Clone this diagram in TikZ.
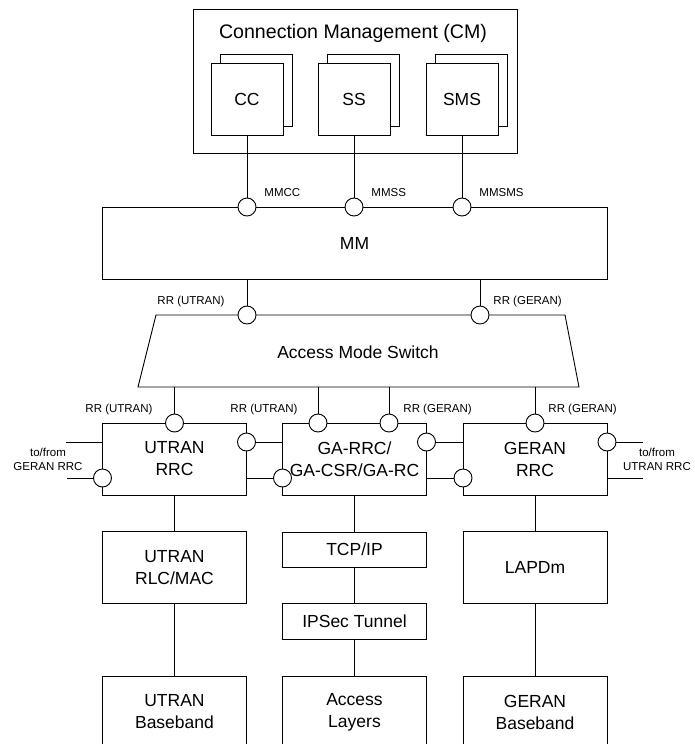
\documentclass[tikz,border=0pt]{standalone}
\usepackage{fontspec}
\setmainfont{Liberation Sans}
\usetikzlibrary{calc}

\begin{document}
\begin{tikzpicture}[x=1pt,y=-1pt,line width=0.9pt,
  box/.style={draw,minimum width=144pt,minimum height=72pt,inner sep=0pt,align=center,font=\fontsize{17.5}{22}\selectfont},
  port/.style={draw,circle,fill=white,minimum size=18pt,inner sep=0pt},
  lbl/.style={inner sep=0pt,align=center,font=\fontsize{11.5}{14}\selectfont}]
  \useasboundingbox (0,0) rectangle (694,744);
  \clip (0,0) rectangle (694,744);
  % connection management
  \node[box,minimum width=324pt,minimum height=144pt] (cm) at (355,81) {};
  \node[font=\fontsize{19.6}{22}\selectfont] (cmt) at (353,33) {Connection Management (CM)};
  \foreach \n/\lab/\x in {cc/CC/247,ss/SS/354,sms/SMS/462}{
    \node[box,minimum width=72pt,fill=white] (\n b) at (\x+9,90) {};
    \node[box,minimum width=72pt,fill=white] (\n) at (\x,99) {\lab};
  }
  % MM
  \node[box,minimum width=505pt] (mm) at (354.5,243) {MM};
  \foreach \n/\lab/\x in {mmcc/MMCC/247,mmss/MMSS/354,mmsms/MMSMS/462}{
    \node[port] (\n) at (\x,207) {};
    \node[lbl,anchor=west] (\n t) at (\x+17,193) {\lab};
  }
  \draw (cc) -- (mmcc);
  \draw (ss) -- (mmss);
  \draw (sms) -- (mmsms);
  % access mode switch
  \coordinate (tl) at (156,315);
  \coordinate (tr) at (565,315);
  \coordinate (br) at (579,387);
  \coordinate (bl) at (138,387);
  \draw (tl) -- (tr) -- (br) -- (bl) -- cycle;
  \node[font=\fontsize{17.5}{22}\selectfont] (ams) at (358,352) {Access Mode Switch};
  \node[port] (rru) at (247,315) {};
  \node[port] (rrg) at (480,315) {};
  \draw (mm.south -| rru) -- (rru);
  \draw (mm.south -| rrg) -- (rrg);
  \node[lbl,anchor=east] (rrut) at (225,302) {RR (UTRAN)};
  \node[lbl,anchor=west] (rrgt) at (493,302) {RR (GERAN)};
  % RRC
  \node[box] (urrc) at (174.5,459) {UTRAN\\RRC};
  \node[box] (ga) at (354.5,459) {GA-RRC/\\GA-CSR/GA-RC};
  \node[box] (grrc) at (535,459) {GERAN\\RRC};
  \node[port] (urrct) at (174.5,423) {};
  \node[port] (gatu) at (318,423) {};
  \node[port] (gatg) at (389,423) {};
  \node[port] (grrct) at (535,423) {};
  \node[port] (urrcr) at (246.5,442) {};
  \node[port] (urrcl) at (102.5,478) {};
  \node[port] (gal) at (282.5,478) {};
  \node[port] (gar) at (426.5,442) {};
  \node[port] (grrcl) at (463,478) {};
  \node[port] (grrcr) at (607,442) {};
  \foreach \p in {urrct,gatu,gatg,grrct}
    \draw (bl -| \p) -- (\p);
  \node[lbl,anchor=east] (l1) at (153,410) {RR (UTRAN)};
  \node[lbl,anchor=east] (l2) at (298,410) {RR (UTRAN)};
  \node[lbl,anchor=west] (l3) at (403,410) {RR (GERAN)};
  \node[lbl,anchor=west] (l4) at (548,410) {RR (GERAN)};
  % enlaces laterales
  \draw (urrcr) -- (urrcr -| ga.west);
  \draw (urrc.east |- gal) -- (gal);
  \draw (gar) -- (gar -| grrc.west);
  \draw (ga.east |- grrcl) -- (grrcl);
  \coordinate (lu) at (66,442);
  \coordinate (ll) at (67,478);
  \coordinate (ru) at (643,442);
  \coordinate (rl) at (643,478);
  \draw (lu) -- (lu -| urrc.west);
  \draw (ll) -- (urrcl);
  \draw (grrcr) -- (ru);
  \draw (grrc.east |- rl) -- (rl);
  \node[lbl] (tfg) at (48,459) {to/from\\GERAN RRC};
  \node[lbl] (tfu) at (657,459) {to/from\\UTRAN RRC};
  % capas inferiores
  \node[box] (urlc) at (174.5,567.5) {UTRAN\\RLC/MAC};
  \node[box,minimum height=35pt] (tcp) at (354.5,549.5) {TCP/IP};
  \node[box,minimum height=36pt] (ipsec) at (354.5,621) {IPSec Tunnel};
  \node[box] (lapdm) at (535,567.5) {LAPDm};
  \node[box] (ubb) at (174.5,712) {UTRAN\\Baseband};
  \node[box] (al) at (354.5,712) {Access\\Layers};
  \node[box] (gbb) at (535,712) {GERAN\\Baseband};
  \draw (urrc) -- (urlc);
  \draw (urlc) -- (ubb);
  \draw (ga) -- (tcp);
  \draw (tcp) -- (ipsec);
  \draw (ipsec) -- (al);
  \draw (grrc) -- (lapdm);
  \draw (lapdm) -- (gbb);
\end{tikzpicture}
\end{document}
